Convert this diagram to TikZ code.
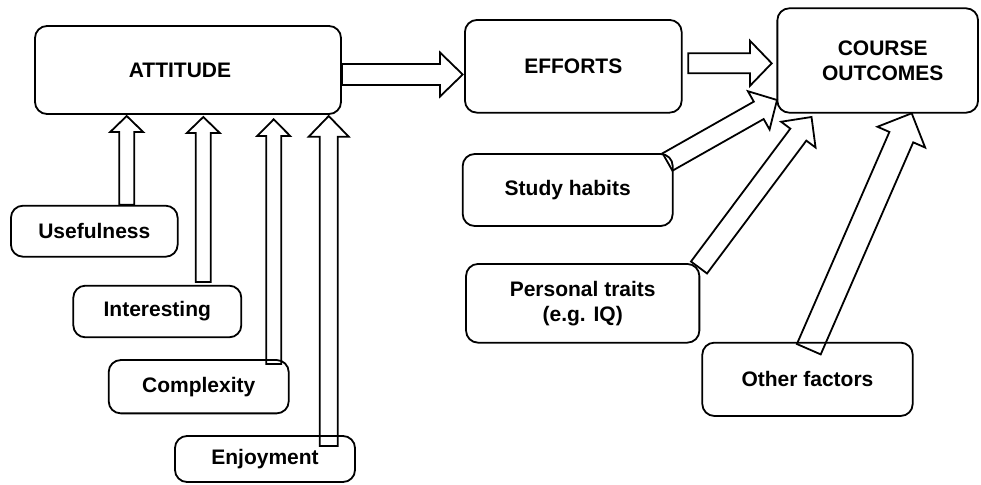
\documentclass[tikz,border=0pt]{standalone}
\usepackage{fontspec}
\setmainfont{Liberation Sans}
\usetikzlibrary{calc}
\tikzset{
  box/.style={draw, line width=1.8pt, rounded corners=12pt, font=\fontsize{21}{25}\selectfont\bfseries, align=center, inner sep=0pt},
  barrow/.style={draw, line width=1.8pt, line join=miter},
}
% #1 tail, #2 tip, #3 shaft width, #4 head width, #5 head length
\newcommand\blockarr[5]{%
  \draw[barrow] let \p1=(#1), \p2=(#2),
    \n1={atan2(\y2-\y1,\x2-\x1)}, \n2={veclen(\x2-\x1,\y2-\y1)} in
    ($(\p1)+(\n1+90:{#3/2})$)
    -- ($(\p1)+(\n1:{\n2-#5})+(\n1+90:{#3/2})$)
    -- ($(\p1)+(\n1:{\n2-#5})+(\n1+90:{#4/2})$)
    -- (\p2)
    -- ($(\p1)+(\n1:{\n2-#5})+(\n1-90:{#4/2})$)
    -- ($(\p1)+(\n1:{\n2-#5})+(\n1-90:{#3/2})$)
    -- ($(\p1)+(\n1-90:{#3/2})$) -- cycle;}
\begin{document}
\begin{tikzpicture}[x=1pt,y=-1pt]
\useasboundingbox (0,0) rectangle (981,484);
% boxes
\node[box, minimum width=306pt, minimum height=88pt] (att) at (188,70) {\raisebox{-2pt}{ATTITUDE}\hspace*{16pt}};
\node[box, minimum width=216.7pt, minimum height=92.7pt] (eff) at (573.3,66.3) {EFFORTS};
\node[box, minimum width=200.7pt, minimum height=104.4pt] (out) at (877.7,60.5) {\hspace*{10pt}COURSE\\\hspace*{10pt}OUTCOMES};
\node[box, minimum width=210pt, minimum height=72pt] (stu) at (567.7,190) {Study habits};
\node[box, minimum width=233.3pt, minimum height=78.7pt] (per) at (582.7,303.3) {Personal traits\\(e.g. IQ)};
\node[box, minimum width=210.4pt, minimum height=73.3pt] (oth) at (807.5,379.3) {Other factors};
\node[box, minimum width=166.7pt, minimum height=51pt] (use) at (94.3,231.2) {Usefulness};
\node[box, minimum width=168pt, minimum height=51.6pt] (int) at (157.3,311.5) {Interesting};
\node[box, minimum width=180pt, minimum height=53.3pt] (com) at (198.7,386.7) {Complexity};
\node[box, minimum width=180pt, minimum height=46pt] (enj) at (265,459) {Enjoyment};
% arrow end points
\coordinate (aeT) at (att.east |- 0,74.5);
\coordinate (aeH) at (462.7,74.5);
\coordinate (eoT) at (688.3,63.3);
\coordinate (eoH) at (771.7,63.3);
\coordinate (soT) at (667.5,162);
\coordinate (soH) at (777,100);
\coordinate (poT) at (699,267.5);
\coordinate (poH) at (811.5,117);
\coordinate (ooT) at (808.8,349.2);
\coordinate (ooH) at (911.7,113.3);
\coordinate (u1T) at (use.north -| 126.7,0);
\coordinate (u1H) at (126.7,116);
\coordinate (u2T) at (203.3,282);
\coordinate (u2H) at (203.3,117);
\coordinate (u3T) at (273.7,364);
\coordinate (u3H) at (273.7,119.3);
\coordinate (u4T) at (328.7,446);
\coordinate (u4H) at (328.7,116);
% arrows
\blockarr{aeT}{aeH}{21pt}{44pt}{22.7pt}
\blockarr{eoT}{eoH}{20pt}{45pt}{21.7pt}
\blockarr{soT}{soH}{20pt}{44pt}{21pt}
\blockarr{poT}{poH}{20pt}{43pt}{22pt}
\blockarr{ooT}{ooH}{26pt}{52pt}{26pt}
\blockarr{u1T}{u1H}{15pt}{33pt}{16pt}
\blockarr{u2T}{u2H}{15pt}{33pt}{16pt}
\blockarr{u3T}{u3H}{15pt}{33pt}{16.7pt}
\blockarr{u4T}{u4H}{18pt}{40pt}{20.7pt}
\end{tikzpicture}
\end{document}
